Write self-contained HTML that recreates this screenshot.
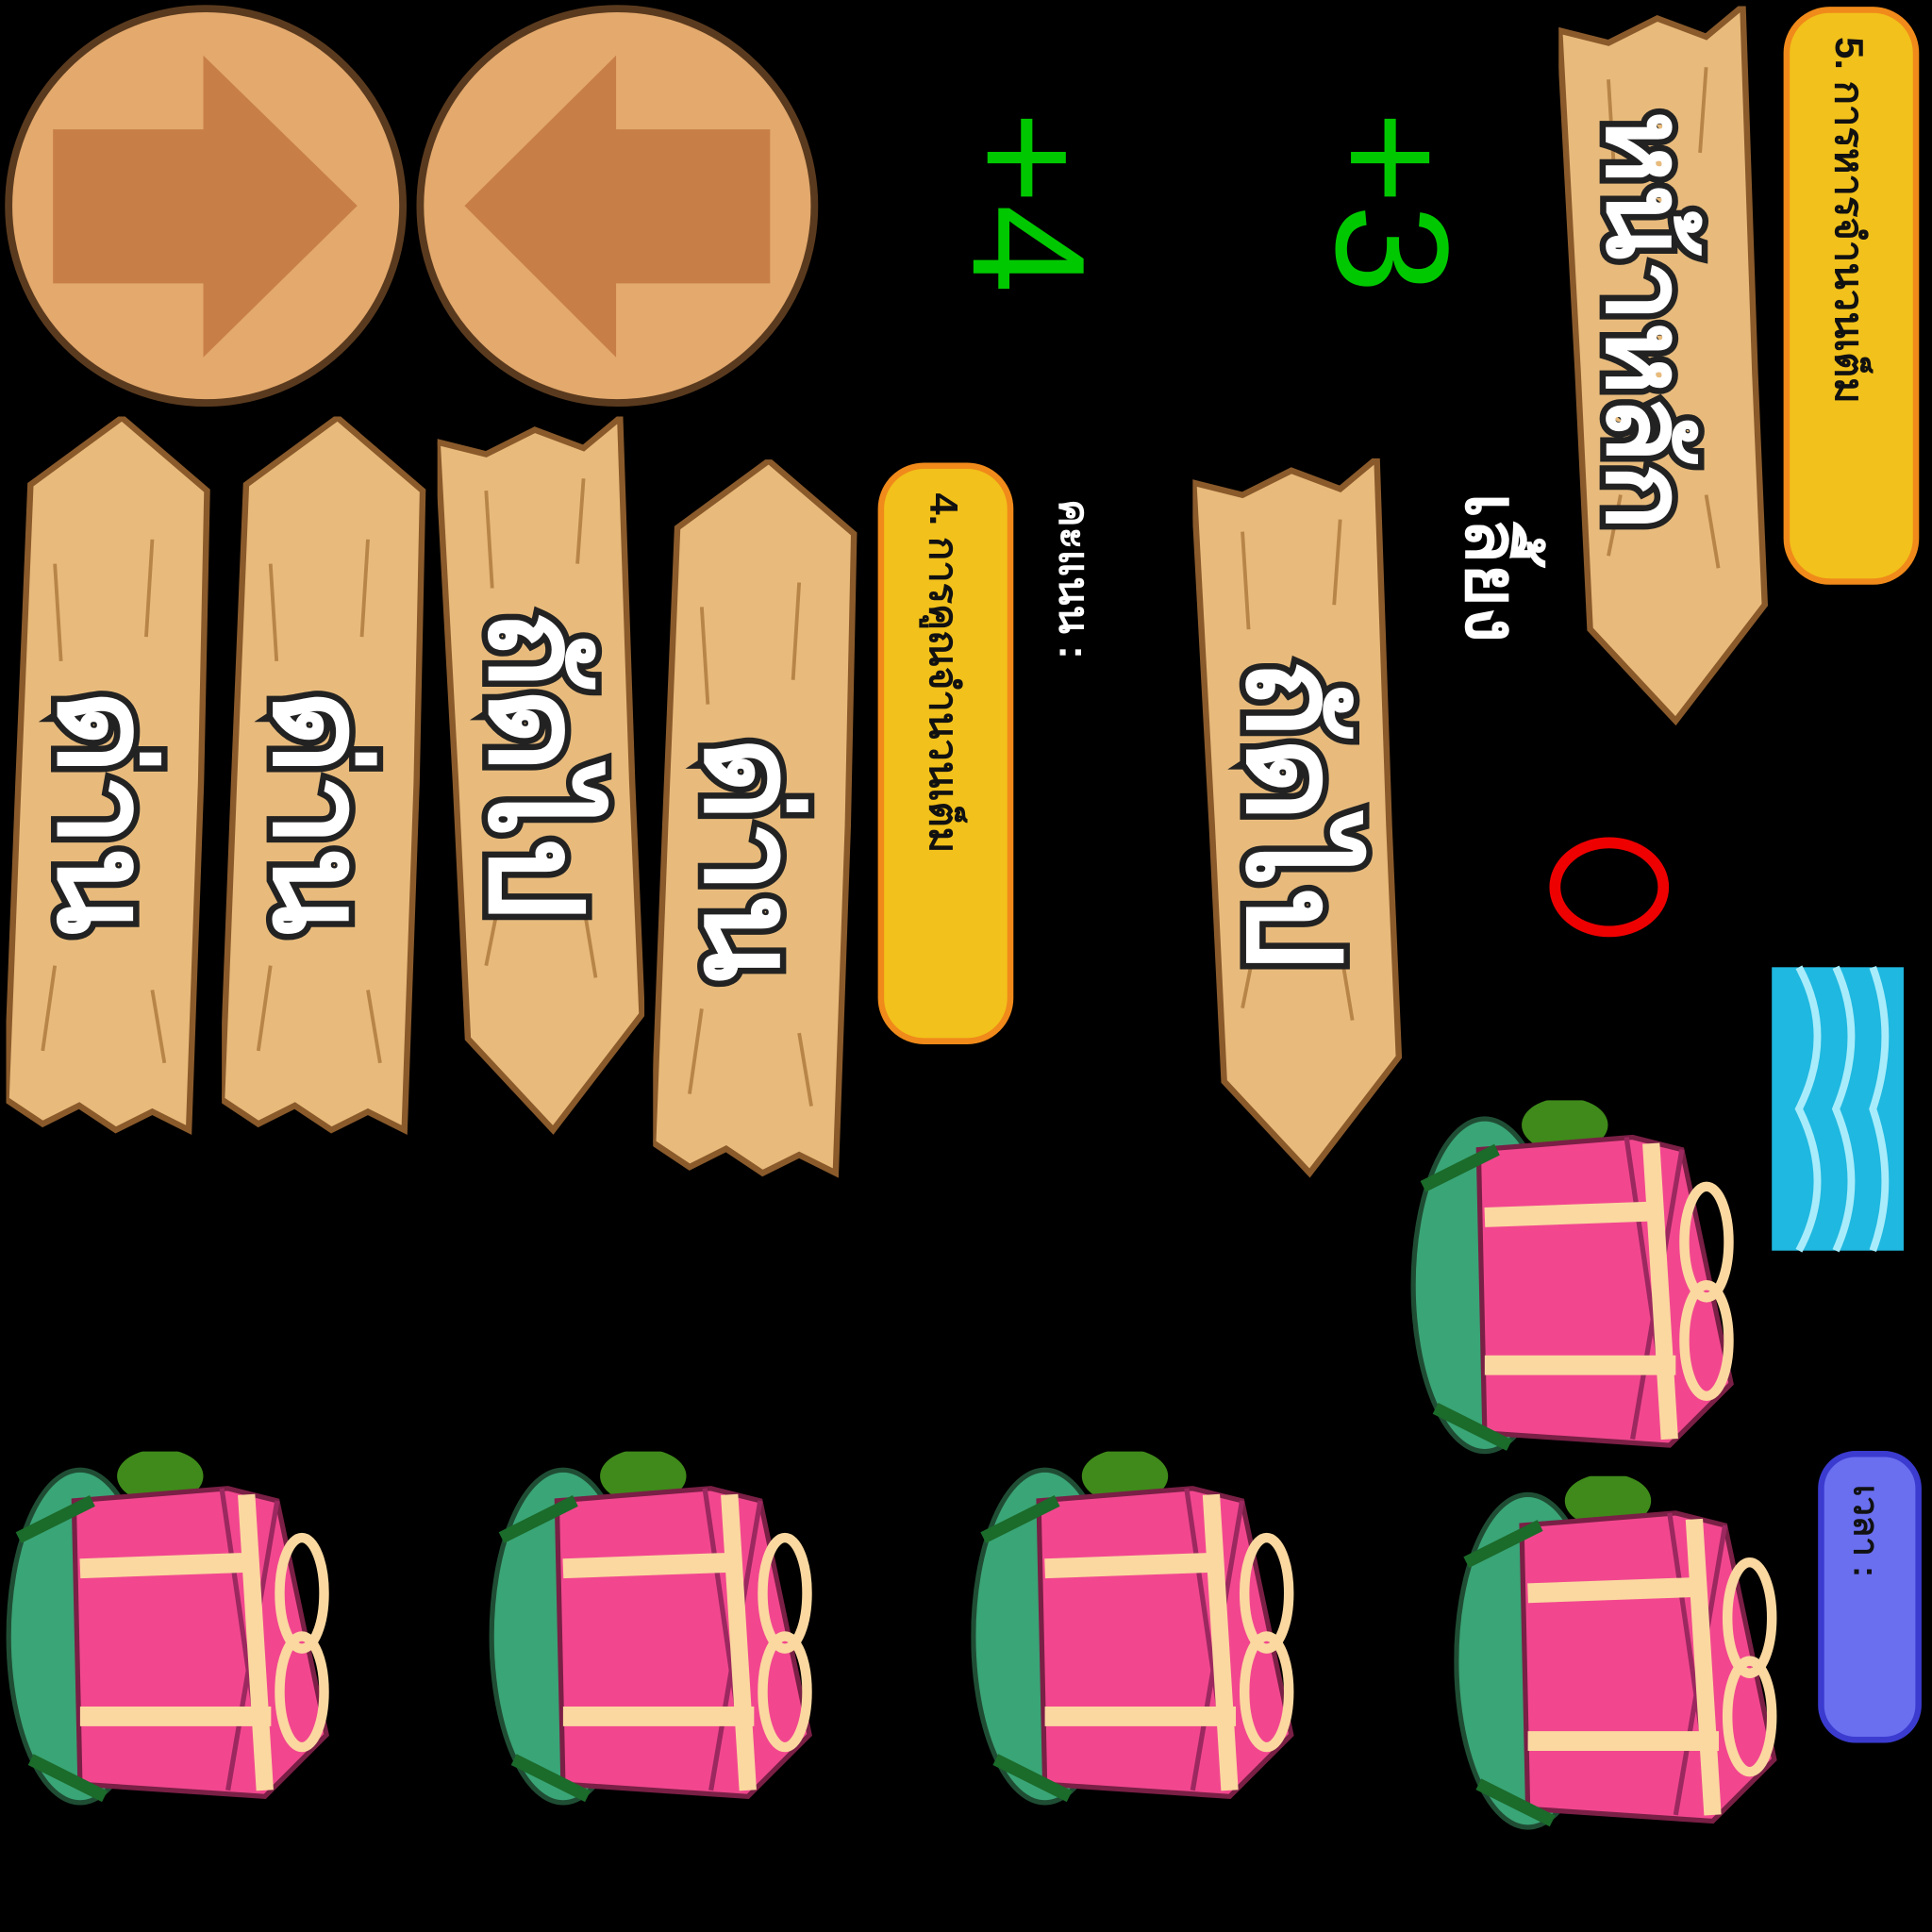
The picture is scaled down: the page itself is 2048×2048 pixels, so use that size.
<!DOCTYPE html>
<html><head><meta charset="utf-8">
<style>
html,body{margin:0;padding:0;background:#000;width:2048px;height:2048px;overflow:hidden}
svg{display:block}
.th{font-family:"Liberation Sans","DejaVu Sans",sans-serif;font-weight:bold}
</style></head>
<body>
<svg width="2048" height="2048" viewBox="0 0 1568 1568" xmlns="http://www.w3.org/2000/svg">
<defs>
  <symbol id="plank" viewBox="0 0 170 590">
    <path d="M20 55 L95 0 L165 60 L160 300 L150 585 L120 570 L90 585 L60 565 L30 580 L0 560 L10 300 Z" fill="#e8bb7c" stroke="#8a5a2b" stroke-width="5"/>
    <path d="M40 120 L45 200 M120 100 L115 180 M30 520 L40 450 M130 530 L120 470" stroke="#b88548" stroke-width="3"/>
  </symbol>
  <symbol id="plankdown" viewBox="0 0 170 590">
    <path d="M0 20 L40 30 L80 10 L120 25 L150 0 L160 300 L168 490 L95 585 L25 510 L15 300 Z" fill="#e8bb7c" stroke="#8a5a2b" stroke-width="5"/>
    <path d="M40 60 L45 140 M120 50 L115 120 M40 450 L50 400 M130 460 L120 400" stroke="#b88548" stroke-width="3"/>
  </symbol>
  <symbol id="gift" viewBox="0 0 280 300">
    <ellipse cx="60" cy="150" rx="58" ry="135" fill="#3aa577" stroke="#1f4d34" stroke-width="4"/>
    <ellipse cx="125" cy="20" rx="35" ry="22" fill="#3f8a1a"/>
    <path d="M55 40 L180 30 L220 40 L260 230 L210 280 L60 270 Z" fill="#f2478f" stroke="#7a1f45" stroke-width="4"/>
    <path d="M175 30 L210 270 M220 40 L180 275" stroke="#9c2860" stroke-width="4"/>
    <path d="M60 95 L200 90 M60 215 L215 215" stroke="#fbd8a0" stroke-width="16"/>
    <path d="M195 35 L210 275" stroke="#fbd8a0" stroke-width="14"/>
    <ellipse cx="240" cy="115" rx="18" ry="45" fill="none" stroke="#fbd8a0" stroke-width="8"/>
    <ellipse cx="240" cy="195" rx="18" ry="45" fill="none" stroke="#fbd8a0" stroke-width="8"/>
    <path d="M10 70 L70 40 M20 250 L80 280" stroke="#1b6b2a" stroke-width="10"/>
  </symbol>
</defs>

<g>
  <circle cx="167" cy="167" r="160" fill="#e3a96d" stroke="#5a3a1e" stroke-width="6"/>
  <path d="M43 105 L165 105 L165 45 L290 167 L165 290 L165 230 L43 230 Z" fill="#c87f47"/>
</g>
<g>
  <circle cx="501" cy="167" r="160" fill="#e3a96d" stroke="#5a3a1e" stroke-width="6"/>
  <path d="M625 105 L500 105 L500 45 L377 167 L500 290 L500 230 L625 230 Z" fill="#c87f47"/>
</g>

<text transform="translate(790,90) rotate(90)" font-family="Liberation Sans, sans-serif" font-size="130" fill="#00c800">+4</text>
<text transform="translate(1085,90) rotate(90)" font-family="Liberation Sans, sans-serif" font-size="130" fill="#00c800">+3</text>

<g>
  <use href="#plankdown" x="1265" y="5" width="170" height="585"/>
  <text class="th" transform="translate(1305,90) rotate(90)" font-size="90" fill="#fff" stroke="#222" stroke-width="10" paint-order="stroke">หน้าหลัก</text>
</g>

<g>
  <rect x="1450" y="8" width="105" height="464" rx="35" fill="#f2c11b" stroke="#f08a1a" stroke-width="5"/>
  <text class="th" transform="translate(1490,30) rotate(90)" font-size="32" fill="#111">5. การหารจำนวนเต็ม</text>
</g>

<text class="th" transform="translate(1190,400) rotate(90)" font-size="60" fill="#fff">เลี้ยง</text>

<ellipse cx="1306" cy="720" rx="44" ry="36" fill="none" stroke="#ee0000" stroke-width="9"/>

<g>
<rect x="1438" y="785" width="107" height="230" fill="#1fb8e0"/>
<path d="M1460 785 Q1490 840 1460 900 Q1490 960 1460 1015 M1490 785 Q1515 840 1490 900 Q1515 960 1490 1015 M1520 785 Q1540 840 1520 900 Q1540 960 1520 1015" stroke="#a8ecfb" stroke-width="6" fill="none"/>
</g>

<g>
  <use href="#plank" x="5" y="338" width="168" height="585"/>
  <text class="th" transform="translate(48,560) rotate(90)" font-size="105" fill="#fff" stroke="#222" stroke-width="10" paint-order="stroke">ด่าน</text>
</g>
<g>
  <use href="#plank" x="180" y="338" width="168" height="585"/>
  <text class="th" transform="translate(223,560) rotate(90)" font-size="105" fill="#fff" stroke="#222" stroke-width="10" paint-order="stroke">ด่าน</text>
</g>
<g>
  <use href="#plankdown" x="355" y="338" width="168" height="585"/>
  <text class="th" transform="translate(398,495) rotate(90)" font-size="105" fill="#fff" stroke="#222" stroke-width="10" paint-order="stroke">ถัดไป</text>
</g>
<g>
  <use href="#plank" x="530" y="373" width="168" height="585"/>
  <text class="th" transform="translate(573,598) rotate(90)" font-size="105" fill="#fff" stroke="#222" stroke-width="10" paint-order="stroke">ด่าน</text>
</g>
<g>
  <use href="#plankdown" x="968" y="372" width="170" height="585"/>
  <text class="th" transform="translate(1013,535) rotate(90)" font-size="105" fill="#fff" stroke="#222" stroke-width="10" paint-order="stroke">ถัดไป</text>
</g>

<g>
  <rect x="715" y="378" width="105" height="467" rx="35" fill="#f2c11b" stroke="#f08a1a" stroke-width="5"/>
  <text class="th" transform="translate(755,400) rotate(90)" font-size="32" fill="#111">4. การคูณจำนวนเต็ม</text>
</g>

<text class="th" transform="translate(860,405) rotate(90)" font-size="34" fill="#fff">คะแนน :</text>

<use href="#gift" x="1145" y="893" width="280" height="300"/>
<use href="#gift" x="5" y="1178" width="280" height="300"/>
<use href="#gift" x="397" y="1178" width="280" height="300"/>
<use href="#gift" x="788" y="1178" width="280" height="300"/>
<use href="#gift" x="1180" y="1198" width="280" height="300"/>

<g>
  <rect x="1478" y="1180" width="79" height="232" rx="28" fill="#6a6ff0" stroke="#3b3bd0" stroke-width="5"/>
  <text class="th" transform="translate(1505,1205) rotate(90)" font-size="28" fill="#111">เวลา :</text>
</g>
</svg>
</body></html>
